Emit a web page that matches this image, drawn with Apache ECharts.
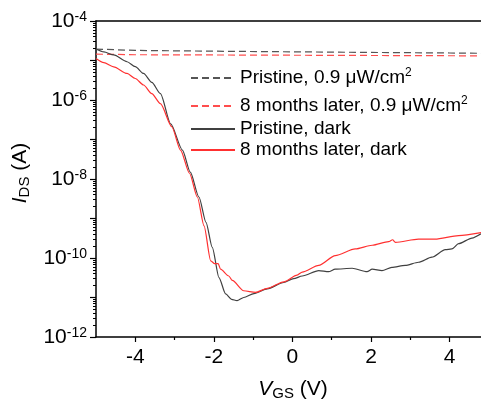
<!DOCTYPE html>
<html>
<head>
<meta charset="utf-8">
<script src="https://cdn.jsdelivr.net/npm/echarts@6/dist/echarts.min.js"></script>
<style>html,body{margin:0;padding:0;background:#fff}#c{width:481px;height:410px}</style>
</head>
<body>
<div id="c"></div>
<script>
// ---- data (V_GS in volts, I_DS in amps) ----
const lightPristineV = [-5, -4, -2, 0, 2, 4, 4.8];
const lightPristineI = [1.95e-5, 1.8e-5, 1.72e-5, 1.66e-5, 1.6e-5, 1.55e-5, 1.52e-5];
const lightAgedV = [-5, -4, -2, 0, 2, 4, 4.8];
const lightAgedI = [1.45e-5, 1.4e-5, 1.38e-5, 1.36e-5, 1.34e-5, 1.32e-5, 1.31e-5];

const darkPristineV = [-5.0, -4.8, -4.55, -4.21, -4.0, -3.79, -3.58, -3.36, -3.10, -2.80, -2.60, -2.38, -2.20, -2.04, -1.87, -1.70, -1.55, -1.41, -1.24, -0.98, -0.64, -0.22, 0.03, 0.25, 0.67, 0.92, 1.09, 1.52, 1.90, 2.03, 2.28, 2.53, 2.87, 3.21, 3.55, 3.89, 4.06, 4.23, 4.57, 4.80];
const darkPristineI = [1.95e-5, 1.65e-5, 1.38e-5, 9.3e-6, 7.0e-6, 4.7e-6, 2.8e-6, 1.45e-6, 2.5e-7, 5.4e-8, 1.5e-8, 3.5e-9, 8.0e-10, 1.86e-10, 3.2e-11, 1.23e-11, 9.0e-12, 8.3e-12, 1.0e-11, 1.26e-11, 1.66e-11, 2.4e-11, 3.0e-11, 3.5e-11, 4.8e-11, 4.5e-11, 5.2e-11, 5.5e-11, 4.5e-11, 5.2e-11, 4.8e-11, 5.8e-11, 6.5e-11, 7.8e-11, 1.05e-10, 1.62e-10, 1.7e-10, 2.3e-10, 3.2e-10, 4.1e-10];

const darkAgedV = [-5.0, -4.8, -4.55, -4.21, -4.0, -3.79, -3.58, -3.36, -3.07, -2.85, -2.62, -2.42, -2.25, -2.08, -1.98, -1.89, -1.83, -1.62, -1.53, -1.24, -0.94, -0.64, -0.22, 0.12, 0.25, 0.67, 1.09, 1.60, 2.03, 2.45, 2.55, 2.62, 3.21, 3.63, 4.23, 4.80];
const darkAgedI = [1.12e-5, 8.8e-6, 6.9e-6, 4.7e-6, 3.5e-6, 2.4e-6, 1.45e-6, 8.1e-7, 2.1e-7, 5.4e-8, 1.4e-8, 3.5e-9, 6.5e-10, 8.5e-11, 7.2e-11, 7.2e-11, 5.2e-11, 3.5e-11, 2.7e-11, 1.48e-11, 1.35e-11, 1.7e-11, 2.5e-11, 3.7e-11, 4.4e-11, 6.5e-11, 1.15e-10, 1.7e-10, 2.1e-10, 2.6e-10, 2.9e-10, 2.5e-10, 3.0e-10, 3.0e-10, 3.7e-10, 4.4e-10];

const xMajorTicks = [-4, -2, 0, 2, 4];
const xMinorTicks = [-3, -1, 1, 3];
const yExpMin = -12, yExpMax = -4;
const yLabelExps = [-12, -10, -8, -6, -4];

const seriesNames = ['Pristine, 0.9 μW/cm2', '8 months later, 0.9 μW/cm2', 'Pristine, dark', '8 months later, dark'];

// ---- helpers ----
const F = '"Liberation Sans", Arial, Helvetica, sans-serif';
function pts(vs, is) { return vs.map((v, k) => [v, Math.log10(is[k])]); }
const yMinor = [];
for (let e = yExpMin; e < yExpMax; e++) for (let k = 2; k <= 9; k++) yMinor.push(e + Math.log10(k));

const legendRich = {
  n: { fontSize: 19, fontFamily: F, color: '#000', lineHeight: 22 },
  s: { fontSize: 12, fontFamily: F, color: '#000', lineHeight: 10, verticalAlign: 'top' }
};
function legendFmt(name) {
  if (name.endsWith('cm2')) return '{n|' + name.slice(0, -1) + '}{s|2}';
  return '{n|' + name + '}';
}
const legendTops = [67, 95, 118, 139];
const legends = seriesNames.map((nm, k) => ({
  data: [nm], left: 190, top: legendTops[k], padding: 0,
  itemWidth: 44, itemHeight: 14, selectedMode: false,
  itemStyle: { opacity: 0 },
  formatter: legendFmt,
  textStyle: { fontSize: 19, fontFamily: F, color: '#000', lineHeight: 22, rich: legendRich }
}));

const chart = echarts.init(document.getElementById('c'), null, { renderer: 'canvas' });
chart.setOption({
  animation: false,
  backgroundColor: '#fff',
  grid: { left: 96, right: 0, top: 21, bottom: 73 },
  legend: legends,
  xAxis: [
    {
      type: 'value', min: -5, max: 4.8, position: 'bottom',
      axisLine: { onZero: false, lineStyle: { color: '#000', width: 1.5 } },
      axisTick: { customValues: xMajorTicks, length: 5, lineStyle: { color: '#000', width: 1.2 } },
      axisLabel: { customValues: xMajorTicks, fontSize: 21, fontFamily: F, color: '#000', margin: 10 },
      splitLine: { show: false },
      name: '{i|V}{sub|GS}{n| (V)}', nameLocation: 'middle', nameGap: 40,
      nameTextStyle: {
        padding: [0, 0, 0, 9],
        rich: {
          i: { fontSize: 21, fontFamily: F, fontStyle: 'italic', color: '#000', lineHeight: 24 },
          sub: { fontSize: 15, fontFamily: F, color: '#000', lineHeight: 14, verticalAlign: 'bottom' },
          n: { fontSize: 21, fontFamily: F, color: '#000', lineHeight: 24 }
        }
      }
    },
    {
      type: 'value', min: -5, max: 4.8, position: 'bottom',
      axisLine: { show: false, onZero: false },
      axisTick: { customValues: xMinorTicks, length: 3, lineStyle: { color: '#000', width: 1.2 } },
      axisLabel: { show: false }, splitLine: { show: false }
    },
    {
      type: 'value', min: -5, max: 4.8, position: 'top',
      axisLine: { onZero: false, lineStyle: { color: '#000', width: 1.5 } },
      axisTick: { show: false }, axisLabel: { show: false }, splitLine: { show: false }
    }
  ],
  yAxis: [
    {
      type: 'value', min: yExpMin, max: yExpMax, interval: 1, position: 'left',
      axisLine: { onZero: false, lineStyle: { color: '#000', width: 1.5 } },
      axisTick: { length: 6, lineStyle: { color: '#000', width: 1.2 } },
      axisLabel: {
        customValues: yLabelExps, margin: 9,
        formatter: v => '{b|10}{s|' + Math.round(v) + '}',
        rich: {
          b: { fontSize: 21, fontFamily: F, color: '#000', lineHeight: 22 },
          s: { fontSize: 14, fontFamily: F, color: '#000', lineHeight: 12, verticalAlign: 'top' }
        }
      },
      splitLine: { show: false },
      name: '{i|I}{sub|DS}{n| (A)}', nameLocation: 'middle', nameRotate: 90, nameGap: 60,
      nameTextStyle: {
        padding: [0, 0, 0, 12],
        rich: {
          i: { fontSize: 21, fontFamily: F, fontStyle: 'italic', color: '#000', lineHeight: 24 },
          sub: { fontSize: 15, fontFamily: F, color: '#000', lineHeight: 14, verticalAlign: 'bottom' },
          n: { fontSize: 21, fontFamily: F, color: '#000', lineHeight: 24 }
        }
      }
    },
    {
      type: 'value', min: yExpMin, max: yExpMax, position: 'left',
      axisLine: { show: false, onZero: false },
      axisTick: { customValues: yMinor, length: 3, lineStyle: { color: '#000', width: 1 } },
      axisLabel: { show: false }, splitLine: { show: false }
    }
  ],
  series: [
    { name: seriesNames[0], type: 'line', symbol: 'none', data: pts(lightPristineV, lightPristineI),
      lineStyle: { color: '#555555', width: 1.2, type: [7, 4] }, itemStyle: { color: '#555555' } },
    { name: seriesNames[1], type: 'line', symbol: 'none', data: pts(lightAgedV, lightAgedI),
      lineStyle: { color: '#ff4d4d', width: 1.2, type: [7, 4] }, itemStyle: { color: '#ff4d4d' } },
    { name: seriesNames[2], type: 'line', symbol: 'none', smooth: 0.25, smoothMonotone: 'x',
      data: pts(darkPristineV, darkPristineI),
      lineStyle: { color: '#404040', width: 1.2 }, itemStyle: { color: '#404040' } },
    { name: seriesNames[3], type: 'line', symbol: 'none', smooth: 0.25, smoothMonotone: 'x',
      data: pts(darkAgedV, darkAgedI),
      lineStyle: { color: '#ff3030', width: 1.2 }, itemStyle: { color: '#ff3030' } }
  ]
});
</script>
</body>
</html>
